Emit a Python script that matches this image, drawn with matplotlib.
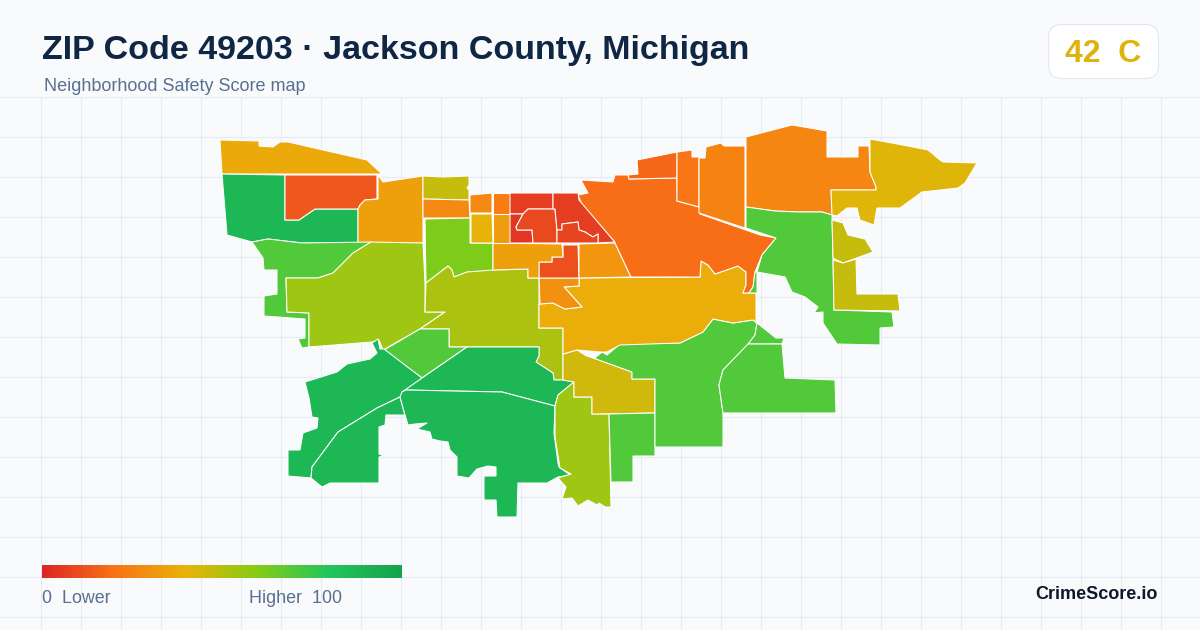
import numpy as np
import matplotlib
matplotlib.use("Agg")
import matplotlib.pyplot as plt
from matplotlib.collections import PolyCollection
from matplotlib.colors import LinearSegmentedColormap, Normalize
from matplotlib.patches import FancyBboxPatch

plt.rcParams['font.family'] = ['Liberation Sans', 'DejaVu Sans']

### Safety score map of the tracts, outlines in image units

nw_strip = [(220,140),(259,141),(259,146),(273,147),(280,142),(288,142),(367,160),(382,174),(222,174)]
west_green = [(222,174),(285,175),(285,220),(299,220),(315,209),(358,209),(358,243),(302,243),(268,239),(252,242),(227,235)]
west_red = [(285,175),(377,175),(377,199),(365,200),(360,205),(358,209),(315,209),(299,220),(285,220)]
west_amber = [(378,175),(383,182),(423,176),(423,243),(358,243),(358,209),(360,205),(365,200),(378,199)]
olive_box = [(423,176),(443,177),(469,176),(469,185),(467,188),(469,190),(469,200),(423,199)]
orange_box = [(423,199),(469,200),(470,218),(423,218)]
lime_box = [(425,219),(470,218),(470,243),(493,243),(493,271),(467,272),(454,277),(452,270),(448,266),(426,283)]
nw_arc = [(252,242),(268,239),(302,243),(371,242),(353,253),(333,273),(318,278),(286,278),(287,312),(309,313),(309,347),(302,348),(298,339),(305,338),(305,319),(264,316),(264,296),(277,294),(277,270),(264,270),(263,258)]
west_lime = [(371,242),(423,243),(425,283),(425,312),(445,312),(420,329),(383,350),(379,340),(372,342),(309,347),(309,313),(287,312),(286,278),(318,278),(333,273),(353,253)]
central_lime = [(426,283),(448,266),(452,270),(454,277),(467,272),(493,270),(528,269),(528,278),(539,278),(539,328),(563,328),(563,380),(554,380),(553,373),(536,362),(539,356),(539,347),(449,347),(449,329),(420,329),(445,312),(425,312)]
small_wedge = [(420,329),(449,329),(449,347),(467,347),(422,378),(384,350)]
sw_upper = [(372,343),(378,339),(380,349),(384,349),(422,378),(400,397),(377,408),(338,432),(312,467),(311,478),(288,476),(288,450),(300,450),(303,433),(317,428),(318,418),(312,417),(309,398),(305,382),(337,372),(347,364),(370,359),(377,353)]
sw_lower = [(400,397),(377,408),(338,432),(312,467),(311,478),(322,487),(330,483),(379,483),(379,457),(384,456),(379,454),(379,427),(385,425),(386,415),(405,415)]
south_north = [(467,347),(539,347),(539,356),(536,362),(553,373),(554,380),(563,380),(574,382),(558,395),(555,406),(502,392),(453,391),(406,390),(402,392),(422,378)]
south_big = [(402,392),(406,390),(453,391),(502,392),(555,406),(554,433),(558,463),(559,467),(570,475),(558,477),(547,483),(518,483),(517,517),(497,517),(496,500),(484,500),(484,476),(496,476),(496,467),(488,466),(477,469),(469,478),(457,476),(457,457),(450,450),(448,442),(440,441),(432,439),(430,432),(417,429),(427,423),(415,424),(408,425),(405,415),(400,397)]
south_lime = [(574,382),(574,397),(592,397),(592,414),(609,414),(611,507),(605,507),(599,503),(597,505),(588,500),(578,506),(572,498),(562,499),(566,487),(558,478),(571,474),(560,468),(555,437),(555,406),(558,395)]
south_olive = [(563,354),(577,350),(585,355),(632,372),(632,379),(655,379),(655,413),(592,414),(592,397),(574,397),(574,382),(563,380)]
south_step = [(609,414),(655,413),(655,456),(633,456),(633,482),(611,482)]
mid_south = [(585,355),(595,358),(602,352),(607,355),(620,344),(680,343),(703,332),(713,319),(733,323),(753,320),(757,323),(755,335),(748,345),(723,370),(719,385),(723,413),(723,447),(655,447),(655,379),(632,379),(632,372)]
se_cap = [(757,323),(776,338),(784,338),(782,344),(748,344),(755,335)]
se_block = [(748,344),(782,344),(785,378),(835,380),(836,413),(723,413),(719,385),(723,370)]
mid_amber = [(579,278),(700,277),(701,261),(708,265),(715,274),(738,266),(746,272),(746,285),(743,293),(756,293),(756,322),(753,320),(733,323),(713,319),(703,332),(680,343),(620,345),(607,352),(600,352),(577,350),(563,354),(563,328),(539,328),(539,304),(553,303),(565,309),(582,307),(564,287),(579,286)]
below_red = [(539,278),(579,278),(579,286),(564,287),(582,307),(565,309),(553,303),(540,304)]
core_south = [(539,262),(552,262),(552,257),(563,257),(563,245),(578,245),(579,278),(539,278)]
core_sw_amber = [(493,243),(562,244),(563,257),(552,257),(552,262),(539,262),(539,278),(528,278),(528,269),(493,270)]
core_se_amber = [(579,244),(615,243),(631,277),(579,278)]
big_orange = [(581,180),(613,182),(615,175),(628,175),(629,179),(677,178),(677,201),(699,207),(700,214),(760,235),(776,238),(762,255),(755,272),(753,287),(749,293),(743,293),(746,285),(746,272),(738,266),(715,274),(708,265),(701,261),(700,277),(631,277),(615,243),(613,240),(582,205),(578,195),(588,193)]
north_tip = [(637,160),(677,152),(677,178),(629,179),(628,175),(638,174)]
north_col = [(677,152),(692,150),(692,157),(699,157),(699,207),(677,201)]
north_col2 = [(699,158),(705,158),(706,147),(721,143),(724,146),(745,146),(745,228),(699,213)]
ne_orange = [(746,137),(792,125),(827,131),(827,157),(858,157),(858,146),(869,146),(870,172),(876,187),(876,190),(831,190),(832,215),(822,212),(798,212),(775,211),(746,207)]
ne_yellow = [(870,139),(908,146),(928,150),(940,160),(943,162),(977,163),(965,183),(958,188),(922,192),(900,208),(877,208),(874,225),(860,220),(857,208),(847,208),(837,216),(832,215),(831,190),(876,190),(876,187),(870,172)]
east_green = [(746,207),(775,211),(798,212),(822,212),(832,215),(833,258),(834,310),(863,311),(892,312),(894,327),(880,328),(880,345),(837,344),(823,323),(823,312),(814,313),(818,307),(805,297),(792,292),(785,277),(757,272),(762,255),(776,238),(746,228)]
east_sliver = [(757,272),(757,293),(749,293),(753,287),(755,272)]
east_olive_n = [(832,220),(843,223),(848,235),(865,239),(873,252),(843,263),(833,258)]
east_olive_s = [(833,260),(843,263),(856,259),(857,294),(898,294),(900,311),(834,310)]
core_a = [(470,195),(492,193),(492,213),(470,213)]
core_b = [(493,193),(511,193),(511,214),(493,214)]
core_c = [(471,214),(492,214),(493,243),(471,243)]
core_d = [(493,214),(511,214),(511,243),(493,243)]
core_e = [(510,193),(553,193),(553,209),(528,209),(523,214),(510,214)]
core_f = [(510,214),(523,214),(516,227),(517,230),(532,230),(533,243),(510,243)]
core_g = [(528,209),(555,209),(557,230),(557,243),(533,243),(532,230),(517,230),(516,227),(523,214)]
core_h = [(553,193),(578,193),(579,200),(613,240),(615,242),(598,243),(598,234),(593,237),(585,232),(579,230),(578,222),(562,224),(562,230),(557,230),(555,209),(553,209)]
core_i = [(557,230),(562,230),(562,224),(578,222),(579,230),(585,232),(593,237),(598,234),(598,243),(557,243)]

tracts = [nw_strip, west_green, west_red, west_amber, olive_box, orange_box, lime_box, nw_arc,
          west_lime, central_lime, small_wedge, sw_upper, sw_lower, south_north, south_big,
          south_lime, south_olive, south_step, mid_south, se_cap, se_block, mid_amber, below_red,
          core_south, core_sw_amber, core_se_amber, big_orange, north_tip, north_col, north_col2,
          ne_orange, ne_yellow, east_green, east_sliver, east_olive_n, east_olive_s,
          core_a, core_b, core_c, core_d, core_e, core_f, core_g, core_h, core_i]
scores = [37, 88, 13, 34, 47, 27, 61, 70,
          55, 52, 70, 88, 88, 88, 88,
          55, 45, 70, 70, 70, 70, 38, 29,
          11, 34, 31, 19, 17, 21, 25,
          26, 42, 70, 70, 47, 47,
          27, 23, 41, 33, 6, 4, 9, 6, 8]

scale_stops = ["#dc2626", "#f97316", "#eab308", "#84cc16", "#22c55e", "#16a34a"]
title = "ZIP Code 49203 · Jackson County, Michigan"
subtitle = "Neighborhood Safety Score map"
grade = "42  C"

cmap = LinearSegmentedColormap.from_list("score", scale_stops)
norm = Normalize(0, 100)

fig = plt.figure(figsize=(12, 6.3), dpi=100, facecolor="#f8fafc")
ax = fig.add_axes([0, 0, 1, 1])
ax.set_facecolor("#f8fafc")
ax.axis("off")

# background grid, only under the header
ax.vlines(np.arange(40.5, 1200, 40), 97, 630, color="#e4ebf3", lw=0.75, zorder=1)
ax.hlines(np.arange(96.5, 630, 40), 0, 1200, color="#e4ebf3", lw=0.75, zorder=1)

pc = PolyCollection(tracts, array=np.array(scores, dtype=float), cmap=cmap, norm=norm,
                    edgecolors="#ffffff", linewidths=0.75, zorder=2)
ax.add_collection(pc)

# legend bar
ax.imshow(np.linspace(0, 100, 360)[None, :], cmap=cmap, norm=norm, aspect="auto",
          extent=(42, 402, 578, 565), zorder=3)
ax.text(42, 603, "0  Lower", fontsize=12.9, color="#5a7092", zorder=4)
ax.text(249, 603, "Higher  100", fontsize=12.9, color="#5a7092", zorder=4)
ax.text(1158, 599, "CrimeScore.io", fontsize=13, fontweight="bold", color="#0f172a", ha="right", zorder=4)

# header
ax.text(42, 59, title, fontsize=24.5, fontweight="bold", color="#0f2744", zorder=4)
ax.text(44, 91, subtitle, fontsize=12.95, color="#5a7092", zorder=4)

badge = FancyBboxPatch((1048.5, 24.5), 110, 54, boxstyle="round,pad=0,rounding_size=13",
                       fc="#ffffff", ec="#e2e8f0", lw=0.8, zorder=3)
ax.add_patch(badge)
ax.text(1103, 62, grade, fontsize=23, fontweight="bold", color="#e0b20c", ha="center", zorder=4)

ax.set_xlim(0, 1200)
ax.set_ylim(630, 0)

plt.savefig("out.png", dpi=100, facecolor=fig.get_facecolor())
